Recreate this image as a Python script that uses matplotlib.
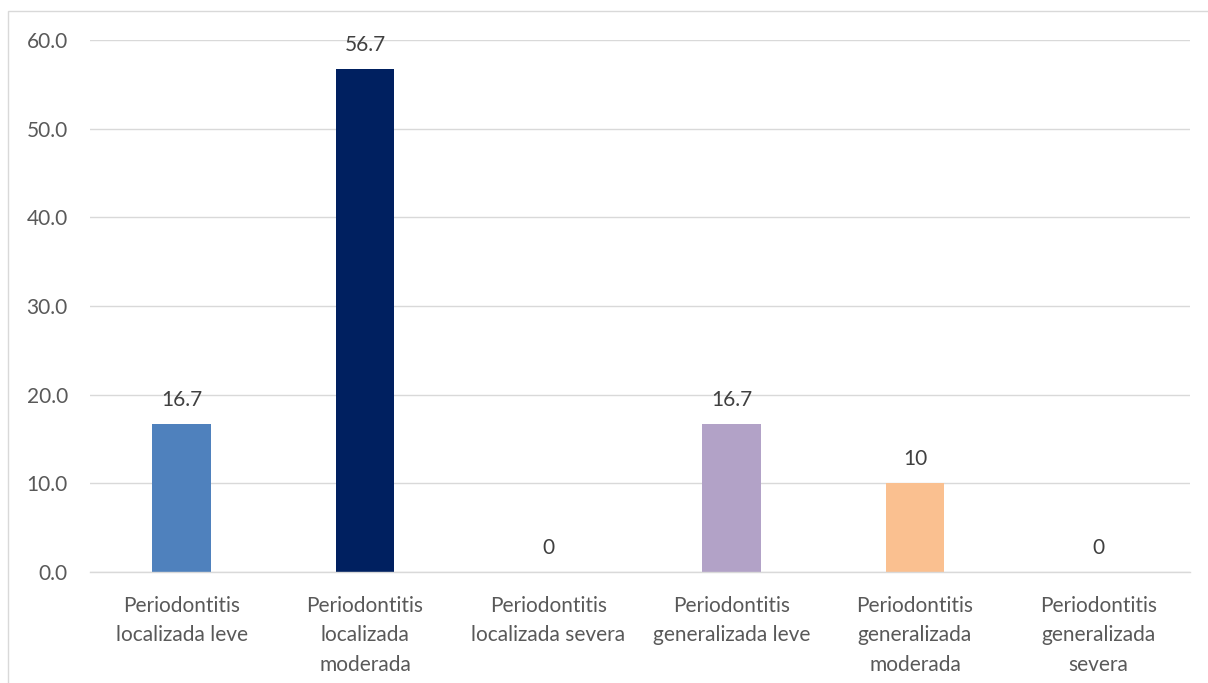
import matplotlib.pyplot as plt
from matplotlib.patches import Rectangle

categories = [
    "Periodontitis\nlocalizada leve",
    "Periodontitis\nlocalizada\nmoderada",
    "Periodontitis\nlocalizada severa",
    "Periodontitis\ngeneralizada leve",
    "Periodontitis\ngeneralizada\nmoderada",
    "Periodontitis\ngeneralizada\nsevera",
]
values = [16.7, 56.7, 0, 16.7, 10, 0]
value_labels = ["16.7", "56.7", "0", "16.7", "10", "0"]
colors = ["#4F81BD", "#002060", "#4F81BD", "#B2A2C7", "#FAC090", "#4F81BD"]
yticks = [0, 10, 20, 30, 40, 50, 60]

plt.rcParams['font.family'] = ['Lato', 'DejaVu Sans']

fig = plt.figure(figsize=(12.08, 6.83), dpi=100)
ax = fig.add_axes([90 / 1208, 111 / 683, 1100 / 1208, 532 / 683])

# outer chart border (only top and left visible in the crop)
fig.patches.append(Rectangle((8 / 1208, -0.1), 1.2, 1 - 11 / 683 + 0.1,
                             transform=fig.transFigure, fill=False,
                             edgecolor="#D9D9D9", linewidth=1))

x = range(len(categories))
ax.bar(x, values, width=0.32, color=colors, zorder=3)

for i, v in enumerate(values):
    ax.text(i, v + 1.6, value_labels[i], ha="center", va="bottom",
            fontsize=15, color="#404040")

ax.set_xlim(-0.5, len(categories) - 0.5)
ax.set_ylim(0, 60)
ax.set_yticks(yticks)
ax.set_yticklabels([f"{t:.1f}" for t in yticks])
ax.set_xticks(list(x))
ax.set_xticklabels(categories, linespacing=1.6)
ax.tick_params(axis="y", length=0, pad=16, labelsize=15, labelcolor="#595959")
ax.tick_params(axis="x", length=0, pad=17, labelsize=15, labelcolor="#595959")

ax.grid(axis="y", color="#D9D9D9", linewidth=1, zorder=0)
for s in ["top", "right", "left"]:
    ax.spines[s].set_visible(False)
ax.spines["bottom"].set_color("#D9D9D9")
ax.spines["bottom"].set_linewidth(1)
ax.spines["bottom"].set_zorder(4)

fig.savefig("out.png", dpi=100)
